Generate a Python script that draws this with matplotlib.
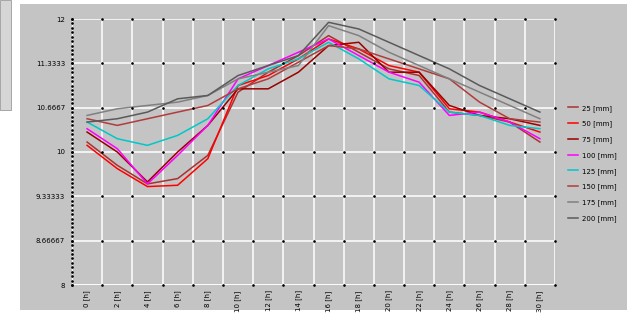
import matplotlib
matplotlib.use("Agg")
import matplotlib.pyplot as plt
import numpy as np
from matplotlib.patches import Rectangle

# soil temperature by depth over the day
hours = [0, 2, 4, 6, 8, 10, 12, 14, 16, 18, 20, 22, 24, 26, 28, 30]
hour_labels = [str(h) + " [h]" for h in hours]

depths = ["25 [mm]", "50 [mm]", "75 [mm]", "100 [mm]",
          "125 [mm]", "150 [mm]", "175 [mm]", "200 [mm]"]
colors = ["#a83232", "#ff0000", "#990000", "#ff00ff",
          "#00c8c8", "#b03c3c", "#808080", "#5a5a5a"]

t_25 = [10.15, 9.80, 9.52, 9.60, 9.95, 10.90, 11.20, 11.45, 11.75, 11.50, 11.25, 11.15, 10.60, 10.55, 10.45, 10.15]
t_50 = [10.10, 9.75, 9.48, 9.50, 9.90, 11.00, 11.15, 11.40, 11.70, 11.55, 11.30, 11.20, 10.65, 10.60, 10.45, 10.30]
t_75 = [10.30, 10.00, 9.55, 10.00, 10.40, 10.95, 10.95, 11.20, 11.60, 11.65, 11.20, 11.20, 10.70, 10.55, 10.50, 10.40]
t_100 = [10.35, 10.05, 9.52, 9.95, 10.40, 11.10, 11.30, 11.50, 11.70, 11.45, 11.20, 11.05, 10.55, 10.60, 10.45, 10.20]
t_125 = [10.45, 10.20, 10.10, 10.25, 10.50, 11.00, 11.25, 11.40, 11.65, 11.40, 11.10, 11.00, 10.60, 10.55, 10.40, 10.35]
t_150 = [10.50, 10.40, 10.50, 10.60, 10.70, 10.95, 11.10, 11.35, 11.60, 11.55, 11.40, 11.25, 11.10, 10.75, 10.50, 10.45]
t_175 = [10.55, 10.65, 10.70, 10.75, 10.85, 11.10, 11.20, 11.30, 11.90, 11.75, 11.50, 11.30, 11.10, 10.90, 10.70, 10.50]
t_200 = [10.45, 10.50, 10.60, 10.80, 10.85, 11.15, 11.30, 11.45, 11.95, 11.85, 11.65, 11.45, 11.25, 11.00, 10.80, 10.60]
series = [t_25, t_50, t_75, t_100, t_125, t_150, t_175, t_200]

y_ticks = [8, 8 + 2 / 3, 8 + 4 / 3, 10, 10 + 2 / 3, 10 + 4 / 3, 12]
y_labels = ["8", "8.66667", "9.33333", "10", "10.6667", "11.3333", "12"]

panel = "#c4c4c4"
fig = plt.figure(figsize=(6.27, 3.21), dpi=100)
fig.patch.set_facecolor("white")

# grey panel behind the chart, and the bit of window on the left edge
fig.patches.append(Rectangle((20 / 627, 1 - 310 / 321), 607 / 627, 306 / 321,
                             transform=fig.transFigure, facecolor=panel,
                             edgecolor="none", zorder=-10))
fig.patches.append(Rectangle((0, 1 - 110 / 321), 11 / 627, 110 / 321,
                             transform=fig.transFigure, facecolor="#d6d6d6",
                             edgecolor="#9a9a9a", lw=0.6, zorder=-10))

ax = fig.add_axes([72 / 627, 1 - 285 / 321, 483 / 627, 266 / 321])
ax.set_facecolor(panel)

x = np.arange(len(hours)) + 0.5
for vals, col, name in zip(series, colors, depths):
    ax.plot(x, vals, color=col, lw=1.1, label=name)

ax.set_xlim(0, len(hours))
ax.set_ylim(8, 12)
ax.set_xticks(np.arange(len(hours) + 1))
ax.set_xticklabels([])
ax.set_yticks(y_ticks)
ax.set_yticklabels(y_labels, fontsize=5)
ax.tick_params(length=0, pad=5)
ax.grid(True, color="white", lw=1.1)
ax.set_axisbelow(True)
for s in ax.spines.values():
    s.set_visible(False)
ax.axvline(0, color="white", lw=1.1, zorder=1)
ax.axhline(8, color="white", lw=1.1, zorder=1)

# black dots at the grid crossings and minor ticks on the value axis
gx, gy = np.meshgrid(np.arange(len(hours) + 1), y_ticks)
ax.scatter(gx.ravel(), gy.ravel(), s=0.8, color="black", zorder=2, clip_on=False)
minor = np.linspace(8, 12, 61)
ax.scatter(np.zeros_like(minor), minor, s=0.8, color="black", zorder=2, clip_on=False)

for xi, lab in zip(x, hour_labels):
    ax.text(xi, 7.92, lab, rotation=90, ha="center", va="top", fontsize=5)

fig.legend(loc="upper left", bbox_to_anchor=(565 / 627, 1 - 102 / 321),
           frameon=False, fontsize=5, handlelength=1.4, handletextpad=0.6,
           labelspacing=1.3, borderaxespad=0)

fig.savefig("out.png", dpi=100, facecolor=fig.get_facecolor())
